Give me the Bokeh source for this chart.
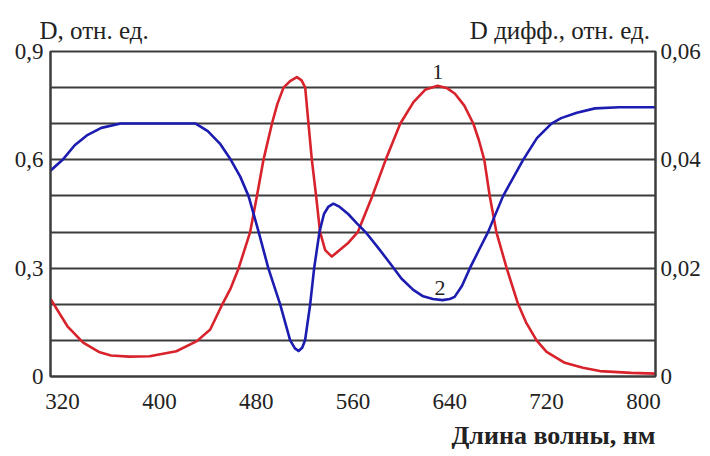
from bokeh.plotting import figure
from bokeh.models import Range1d, LinearAxis, FixedTicker, CustomJSTickFormatter, Label, Title
from bokeh.embed import file_html
from bokeh.resources import INLINE

# --- data ---
red_nm = [310, 324, 337, 350, 360, 375, 392, 414, 431, 442, 452, 459, 465.5, 475, 480.6, 486,
          493, 497.5, 502.6, 508, 513.6, 517.5, 520.5, 523.2, 526, 529.5, 532.8, 537, 542.5,
          549, 556, 564, 576, 587, 599, 610, 620, 630, 638, 644.3, 652, 659.5, 664, 668.5, 673,
          678.5, 687, 696.5, 703, 711.7, 720, 735, 750, 764, 790, 810]
red_D = [0.215, 0.139, 0.094, 0.068, 0.058, 0.055, 0.056, 0.070, 0.098, 0.130, 0.200, 0.245,
         0.300, 0.400, 0.500, 0.600, 0.700, 0.755, 0.800, 0.818, 0.829, 0.820, 0.800, 0.700,
         0.600, 0.500, 0.400, 0.350, 0.332, 0.350, 0.370, 0.400, 0.500, 0.600, 0.700, 0.760,
         0.795, 0.805, 0.798, 0.783, 0.750, 0.700, 0.655, 0.600, 0.500, 0.400, 0.300, 0.200,
         0.150, 0.100, 0.068, 0.038, 0.024, 0.015, 0.010, 0.008]

blue_nm = [310, 320, 330, 340, 352, 368, 430, 440, 450, 459, 466.8, 473.7, 482, 490, 499.8,
           508, 512, 515, 518, 520.4, 524.6, 527.9, 532.3, 536, 539.5, 543.8, 549, 556, 563,
           571, 581, 590.6, 600, 609.8, 618, 626, 634, 640, 644, 650, 656.6, 664, 671.7, 684,
           700.6, 712, 724, 732, 745, 760, 780, 810]
blue_Ddiff = [0.0380, 0.0400, 0.0427, 0.0445, 0.0459, 0.0467, 0.0467, 0.0453, 0.0430, 0.0400,
              0.0369, 0.0333, 0.0267, 0.0200, 0.0133, 0.0067, 0.0052, 0.0047, 0.0053, 0.0067,
              0.0133, 0.0200, 0.0267, 0.0300, 0.0313, 0.0319, 0.0313, 0.0300, 0.0283, 0.0265,
              0.0237, 0.0209, 0.0181, 0.0160, 0.0148, 0.0143, 0.0141, 0.0143, 0.0147, 0.0167,
              0.0200, 0.0233, 0.0267, 0.0333, 0.0400, 0.0440, 0.0467, 0.0477, 0.0487, 0.0495,
              0.0497, 0.0497]

x_ticks = [320, 400, 480, 560, 640, 720, 800]
left_ticks = [0, 0.3, 0.6, 0.9]
right_ticks = [0, 0.02, 0.04, 0.06]
grid_levels = [0.1, 0.2, 0.3, 0.4, 0.5, 0.6, 0.7, 0.8]

left_title = "D, отн. ед."
right_title = "D дифф., отн. ед."
x_title = "Длина волны, нм"
curve_labels = ["1", "2"]
# wavelengths above which the two axis titles sit (centre of each title)
title_anchor_nm = [346, 731]

FONT = "Liberation Serif"
AX = "#3c3c3c"
TXT = "#222222"

p = figure(width=710, height=456, output_backend="svg", toolbar_location=None,
           x_range=Range1d(310, 810), y_range=Range1d(0, 0.9),
           min_border_left=50, min_border_right=55, min_border_top=51, min_border_bottom=79)
p.extra_y_ranges = {"diff": Range1d(0, 0.06)}
p.background_fill_color = "white"
p.outline_line_color = AX
p.outline_line_width = 2

p.xgrid.visible = False
p.ygrid.ticker = FixedTicker(ticks=grid_levels)
p.ygrid.grid_line_color = AX
p.ygrid.grid_line_width = 2

def style(ax, size="23px"):
    ax.axis_line_color = AX
    ax.axis_line_width = 2
    ax.major_tick_out = 0
    ax.major_tick_in = 0
    ax.minor_tick_out = 0
    ax.minor_tick_in = 0
    ax.major_label_text_font = FONT
    ax.major_label_text_font_size = size
    ax.major_label_text_color = TXT

xa = p.xaxis[0]
style(xa)
xa.ticker = FixedTicker(ticks=x_ticks)
xa.major_label_standoff = 17

ya = p.yaxis[0]
style(ya)
ya.ticker = FixedTicker(ticks=left_ticks)
ya.major_label_standoff = 7
ya.formatter = CustomJSTickFormatter(code="return tick == 0 ? '0' : tick.toFixed(1).replace('.', ',');")

ra = LinearAxis(y_range_name="diff")
style(ra)
ra.ticker = FixedTicker(ticks=right_ticks)
ra.major_label_standoff = 5
ra.formatter = CustomJSTickFormatter(code="return tick == 0 ? '0' : tick.toFixed(2).replace('.', ',');")
p.add_layout(ra, "right")

# axis titles above the frame, both on one row (left-axis title and right-axis title)
ta = LinearAxis()
style(ta, "25px")
ta.axis_line_color = None
ta.ticker = FixedTicker(ticks=title_anchor_nm)
ta.major_label_standoff = 8
ta.formatter = CustomJSTickFormatter(args=dict(L=left_title, R=right_title),
                                     code="return tick < 560 ? L : R;")
p.add_layout(ta, "above")

p.add_layout(Title(text=x_title, align="right", text_font=FONT, text_font_size="26px",
                   text_font_style="bold", text_color=TXT, standoff=14), "below")

p.line(red_nm, red_D, line_color="#d8222c", line_width=2.6, line_join="round")
p.line(blue_nm, blue_Ddiff, y_range_name="diff", line_color="#1c1cb0", line_width=2.6,
       line_join="round")

for (x, y, t) in [(630, 0.843, curve_labels[0]), (632, 0.246, curve_labels[1])]:
    p.add_layout(Label(x=x, y=y, text=t, text_font=FONT, text_font_size="22px",
                       text_align="center", text_baseline="middle", text_color=TXT))

open("out.html", "w").write(file_html(p, INLINE))
